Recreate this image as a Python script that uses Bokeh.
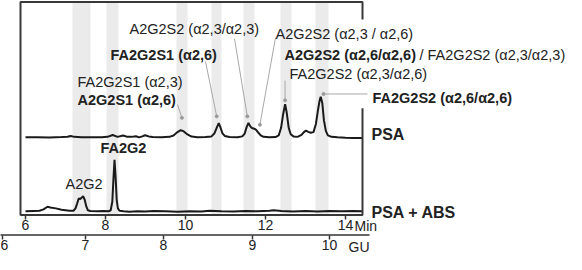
import numpy as np
from bokeh.plotting import figure
from bokeh.models import Range1d, LinearAxis, FixedTicker, BoxAnnotation, Label
from bokeh.embed import file_html
from bokeh.resources import INLINE

# ---------------- data ----------------
# PSA + ABS trace: retention time (min) and signal above its baseline
abs_time = [6.00, 6.20, 6.35, 6.45, 6.55, 6.62, 6.76, 6.90, 7.00, 7.10, 7.20, 7.25, 7.29, 7.33, 7.37,
            7.41, 7.44, 7.48, 7.52, 7.56, 7.62, 7.80, 7.95, 8.08, 8.13, 8.17, 8.20, 8.225, 8.25, 8.28,
            8.31, 8.35, 8.45, 8.60, 8.80, 9.00, 9.20, 9.50, 9.80, 10.10, 10.40, 10.60, 10.90, 11.20,
            11.50, 11.80, 12.10, 12.20, 12.40, 12.70, 13.00, 13.30, 13.60, 13.90, 14.20, 14.43]
abs_signal = [0.0, 0.3, 0.5, 2.0, 4.7, 4.0, 3.0, 1.5, 1.0, 0.5, 0.5, 3.0, 8.0, 13.3, 12.8,
              14.5, 15.7, 12.0, 5.0, 1.0, 0.3, 0.0, 0.3, 0.0, 1.0, 10.0, 35.0, 54.0, 38.0, 12.0,
              3.0, 0.5, 0.0, -0.5, 0.0, -0.3, 0.3, 0.0, -0.5, 0.0, -0.3, 0.4, 0.0, -0.3,
              0.3, 0.0, 0.5, 1.0, 0.3, -0.3, 0.2, -0.2, 0.3, 0.0, 0.3, 0.0]

# PSA trace
psa_time = [6.00, 6.30, 6.60, 6.90, 7.05, 7.13, 7.22, 7.40, 7.60, 7.90, 8.05, 8.18, 8.30, 8.44, 8.55,
            8.65, 8.76, 8.84, 8.92, 8.99, 9.08, 9.18, 9.40, 9.60, 9.70, 9.80, 9.88, 9.95, 10.05, 10.15,
            10.30, 10.50, 10.65, 10.72, 10.78, 10.83, 10.87, 10.92, 10.98, 11.10, 11.30, 11.42, 11.48,
            11.53, 11.575, 11.62, 11.66, 11.72, 11.76, 11.82, 11.88, 11.95, 12.10, 12.25, 12.33, 12.39,
            12.44, 12.49, 12.53, 12.58, 12.63, 12.70, 12.80, 12.90, 12.96, 13.01, 13.07, 13.13, 13.20,
            13.26, 13.31, 13.35, 13.38, 13.42, 13.46, 13.51, 13.56, 13.65, 13.80, 14.00, 14.20, 14.43]
psa_signal = [0.0, 0.2, -0.2, 0.3, 0.6, 1.5, 0.5, 0.0, 0.2, 0.0, 0.5, 2.5, 0.5, 2.0, 0.5,
              0.5, 1.2, 0.0, 1.0, 2.2, 1.0, 0.3, 0.0, 0.5, 2.0, 5.5, 7.5, 6.5, 3.0, 0.8,
              0.0, 0.3, 1.0, 4.0, 10.0, 15.0, 11.0, 4.5, 1.5, 0.3, 0.0, 1.0, 4.0,
              11.0, 15.0, 11.5, 9.8, 9.0, 8.2, 5.0, 2.0, 0.5, 0.0, 0.3, 2.0, 10.0,
              24.0, 34.8, 26.0, 10.0, 3.2, 1.0, 0.5, 2.5, 5.5, 7.0, 5.8, 4.8, 5.5,
              14.0, 28.0, 38.0, 42.5, 36.0, 18.0, 6.5, 2.0, 0.5, 0.0, -0.5, -0.8, -0.8]

# grey bands marking the peaks (min)
band_start = [7.175, 8.025, 9.775, 10.65, 11.45, 12.375, 13.25]
band_end = [7.625, 8.325, 10.05, 10.90, 11.725, 12.65, 13.575]

# axes
min_ticks = [6, 8, 10, 12, 14]
gu_values = [6, 7, 8, 9, 10]
gu_times = [5.425, 7.5, 9.45, 11.675, 13.6]

# annotated PSA peaks (retention time)
peak_times = [9.88, 10.83, 11.575, 11.76, 12.49, 13.38]

# ---------------- layout helpers (reference pixel -> data) ----------------
def T(X):
    return 6 + (X - 33) / 40.0

def V(Y):
    return 228 - Y

ABS_OFFSET = 4.0
PSA_OFFSET = 81.5
FONT = "Liberation Sans"
TXT = "#222222"

W, H = 566, 254
S = 245.0 / 257.0                 # vertical px per unit
V_TOP = 224 + 1.0 / S
V_BOT = V_TOP - H / S

p = figure(width=W, height=H, output_backend="svg", toolbar_location=None,
           x_range=Range1d(T(8), T(8 + W)), y_range=Range1d(V_BOT, V_TOP),
           min_border=0, min_border_left=0, min_border_right=0,
           min_border_top=0, min_border_bottom=0, x_axis_location=None, y_axis_location=None)
p.outline_line_color = None
p.grid.visible = False
p.background_fill_color = "white"
p.border_fill_color = "white"

# bands
for s, e in zip(band_start, band_end):
    p.add_layout(BoxAnnotation(left=s, right=e, bottom=0, top=V(4), fill_color="#ebebeb",
                               fill_alpha=1, line_color=None, level="underlay"))

# traces
p.line(abs_time, [ABS_OFFSET + v for v in abs_signal], line_color="#1a1a1a", line_width=2)
p.line(psa_time, [PSA_OFFSET + v for v in psa_signal], line_color="#1a1a1a", line_width=2)

# frame box (with a gap in its right edge where the labels cross it)
p.quad(left=[T(28)], right=[T(370)], bottom=[0], top=[V(4.5)], fill_color=None,
       line_color="#383838", line_width=2)
p.quad(left=[T(366)], right=[T(375)], bottom=[V(116)], top=[V(23)], fill_color="white",
       line_color=None)

# Min axis (drawn on the bottom edge of the box)
ax = LinearAxis(ticker=FixedTicker(ticks=min_ticks), fixed_location=0)
ax.axis_line_color = None
ax.major_tick_in = 0
ax.major_tick_out = 4
ax.minor_tick_line_color = None
ax.major_tick_line_color = "#333333"
ax.major_tick_line_width = 1.5
ax.major_label_text_font = FONT
ax.major_label_text_font_size = "14px"
ax.major_label_text_color = TXT
ax.major_label_standoff = 1
p.add_layout(ax, "below")

# GU axis
GU_LEVEL = V(249)
gu = LinearAxis(ticker=FixedTicker(ticks=gu_times), fixed_location=GU_LEVEL,
                major_label_overrides={t: str(g) for t, g in zip(gu_times, gu_values)})
gu.axis_line_color = None
gu.major_tick_in = 0
gu.major_tick_out = 4
gu.minor_tick_line_color = None
gu.major_tick_line_color = "#333333"
gu.major_tick_line_width = 1.5
gu.major_label_text_font = FONT
gu.major_label_text_font_size = "14px"
gu.major_label_text_color = TXT
gu.major_label_standoff = 1
p.add_layout(gu, "below")
p.segment(x0=[T(7)], y0=[GU_LEVEL], x1=[T(377)], y1=[GU_LEVEL], line_color="#333333", line_width=1.5)

# leader lines to PSA peaks
def peak_height(t0):
    best = min(range(len(psa_time)), key=lambda i: abs(psa_time[i] - t0))
    return PSA_OFFSET + psa_signal[best]

leader_start = [(T(185), V(112)), (T(213), V(67)), (T(242), V(43)), (T(283), V(42)),
                (T(292.5), V(87)), (T(375), V(101))]
leader_dx = [0.03, -0.05, -0.03, 0.1, 0.0, 0.07]
leader_gap = [13, 7, 7, 5, 4, 3]
x0, y0, x1, y1 = [], [], [], []
for (sx, sy), pt, dx, g in zip(leader_start, peak_times, leader_dx, leader_gap):
    x0.append(sx); y0.append(sy)
    x1.append(pt + dx); y1.append(peak_height(pt) + g)
p.segment(x0=x0, y0=y0, x1=x1, y1=y1, line_color="#a8a8a8", line_width=1)
p.scatter(x1, y1, size=3, color="#9a9a9a")

def lab(X, Y, text, bold=False, size="14.5px"):
    p.add_layout(Label(x=T(X), y=V(Y), text=text, text_font=FONT, text_font_size=size,
                       text_font_style="bold" if bold else "normal", text_color=TXT,
                       text_baseline="middle", text_align="left"))

lab(137, 33, "A2G2S2 (α2,3/α2,3)")
lab(118, 60, "FA2G2S1 (α2,6)", True)
lab(85, 88, "FA2G2S1 (α2,3)")
lab(85, 107, "A2G2S1 (α2,6)", True)
lab(283, 38, "A2G2S2 (α2,3 / α2,6)")
lab(292, 60, "A2G2S2 (α2,6/α2,6)", True)
lab(427, 60, "/ FA2G2S2 (α2,3/α2,3)")
lab(297, 80, "FA2G2S2 (α2,3/α2,6)")
lab(380, 105, "FA2G2S2 (α2,6/α2,6)", True)
lab(108, 158, "FA2G2", True)
lab(73, 195, "A2G2")
lab(379, 143, "PSA", True, "16px")
lab(379, 225, "PSA + ABS", True, "16px")
lab(362, 240, "Min", False, "14px")
lab(356, 261, "GU", False, "14px")

open("out.html", "w").write(file_html(p, INLINE))
